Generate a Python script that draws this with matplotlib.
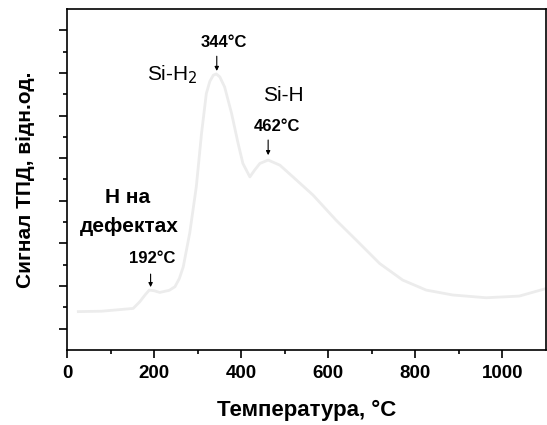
import numpy as np
import matplotlib
matplotlib.use('Agg')
import matplotlib.pyplot as plt

plt.rcParams['font.family'] = ['Liberation Sans', 'DejaVu Sans']

# TPD signal
temperature = [26, 80, 152, 167, 180, 189, 200, 213, 235, 248, 258, 267, 282, 297, 309,
               320, 328, 336, 343, 351, 362, 378, 393, 404, 420, 431, 443, 462, 489,
               519, 565, 618, 672, 718, 771, 825, 886, 963, 1039, 1100]
signal = [1.80, 1.82, 1.95, 2.26, 2.60, 2.81, 2.78, 2.70, 2.80, 2.97, 3.35, 3.90, 5.50,
          7.66, 10.16, 12.03, 12.60, 12.89, 12.95, 12.81, 12.34, 11.10, 9.69, 8.75,
          8.12, 8.44, 8.75, 8.91, 8.67, 8.12, 7.27, 6.09, 5.00, 4.06, 3.28, 2.81,
          2.58, 2.45, 2.53, 2.88]

peak_temps = [192, 344, 462]
peak_labels = ['192°C', '344°C', '462°C']

fig = plt.figure(figsize=(5.47, 4.25), dpi=100)
ax = fig.add_axes([0.1225, 0.1765, 0.8755, 0.8025])

ax.plot(temperature, signal, color='#ececec', linewidth=2.0)

ax.set_xlim(0, 1100)
ax.set_ylim(0, 16)
ax.set_xticks(np.arange(0, 1001, 200))
ax.set_xticks(np.arange(100, 1100, 200), minor=True)
ax.set_yticks(np.arange(1, 16, 2))
ax.set_yticks(np.arange(2, 16, 2), minor=True)
ax.set_yticklabels([])
ax.tick_params(which='major', length=6, width=1.2, labelsize=13.5, pad=5)
ax.tick_params(which='minor', length=3, width=1.2)
for lab in ax.get_xticklabels():
    lab.set_fontweight('bold')
for s in ax.spines.values():
    s.set_linewidth(1.2)

ax.set_xlabel('Температура, °C', fontsize=16, fontweight='bold', labelpad=13)
ax.set_ylabel('Сигнал ТПД, відн.од.', fontsize=15, fontweight='bold', labelpad=12)

# peak labels and arrows
label_pos = [(195, 4.31), (360, 14.44), (482, 10.5)]
arrow_y = [(3.56, 2.95), (13.78, 13.09), (9.85, 9.14)]
for t, lab, (lx, ly), (y0, y1) in zip(peak_temps, peak_labels, label_pos, arrow_y):
    ax.text(lx, ly, lab, ha='center', va='center', fontsize=12, fontweight='bold')
    ax.annotate('', xy=(t, y1), xytext=(t, y0),
                arrowprops=dict(arrowstyle='-|>', color='black', lw=0.8,
                                mutation_scale=6, shrinkA=0, shrinkB=0))

ax.text(241, 12.9, 'Si-H$_2$', ha='center', va='center', fontsize=15)
ax.text(498, 11.95, 'Si-H', ha='center', va='center', fontsize=15)
ax.text(140, 7.17, 'H на', ha='center', va='center', fontsize=15, fontweight='bold')
ax.text(144, 5.77, 'дефектах', ha='center', va='center', fontsize=15, fontweight='bold')

fig.savefig('out.png', dpi=100)
